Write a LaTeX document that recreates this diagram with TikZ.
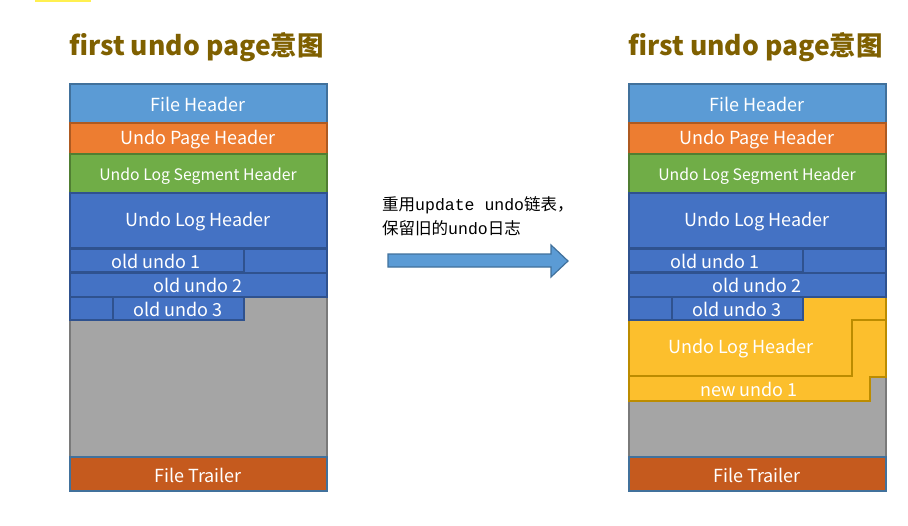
\documentclass[tikz,border=0pt]{standalone}
\usepackage{fontspec}
\setmainfont{Noto Sans CJK SC}
\newfontfamily\cjk{Noto Sans CJK SC}
\newfontfamily\monof{Liberation Mono}
\definecolor{fhblue}{HTML}{5B9BD5}
\definecolor{fhborder}{HTML}{41719C}
\definecolor{orfill}{HTML}{ED7D31}
\definecolor{orborder}{HTML}{AE5A21}
\definecolor{grfill}{HTML}{70AD47}
\definecolor{grborder}{HTML}{507E32}
\definecolor{blfill}{HTML}{4472C4}
\definecolor{blborder}{HTML}{2F528F}
\definecolor{gyfill}{HTML}{A5A5A5}
\definecolor{gyborder}{HTML}{7A7A7A}
\definecolor{trfill}{HTML}{C55A1E}
\definecolor{yefill}{HTML}{FCBF2D}
\definecolor{yeborder}{HTML}{BC8C00}
\definecolor{titlec}{HTML}{7F6000}
\definecolor{topbar}{HTML}{FFF050}
\begin{document}
\begin{tikzpicture}[x=1pt,y=-1pt,
  blk/.style={line width=1.5pt,line join=miter},
  lbl/.style={text=white,font=\fontsize{18}{18}\selectfont,inner sep=0pt},
  slbl/.style={text=white,font=\fontsize{15.8}{16}\selectfont,inner sep=0pt},
  ttl/.style={text=titlec,font=\fontsize{26.5}{27}\selectfont\bfseries,inner sep=0pt,anchor=west},
  note/.style={text=black,font=\fontsize{16.5}{20}\selectfont,inner sep=0pt,anchor=west,align=left}]
\useasboundingbox (0,0) rectangle (908,525);
\fill[topbar] (35,0) rectangle (91,1.5);
% ---------- left page ----------
\node[ttl] (t1) at (69,47) {first undo page意图};
\draw[blk,fill=fhblue,draw=fhborder] (70,84) rectangle (327,123);
\draw[blk,fill=orfill,draw=orborder] (70,123) rectangle (327,154);
\draw[blk,fill=grfill,draw=grborder] (70,154) rectangle (327,193);
\draw[blk,fill=blfill,draw=blborder] (70,193) rectangle (327,248);
\draw[blk,fill=gyfill,draw=gyborder] (70,297) rectangle (327,457);
\draw[blk,fill=blfill,draw=blborder] (244,249) rectangle (327,273);
\draw[blk,fill=blfill,draw=blborder] (70,273) rectangle (327,297);
\draw[blk,fill=blfill,draw=blborder] (70,297) rectangle (113,320);
\draw[blk,fill=blfill,draw=blborder] (70,249) rectangle (244,272);
\draw[blk,fill=blfill,draw=blborder] (113,297) rectangle (244,320);
\draw[blk,fill=trfill,draw=fhborder] (70,457) rectangle (327,491);
\node[lbl] (a1) at (198,104) {File Header};
\node[lbl] (a2) at (198,140) {Undo Page Header};
\node[slbl] (a3) at (198,176) {Undo Log Segment Header};
\node[lbl] (a4) at (198,222) {Undo Log Header};
\node[lbl] (a5) at (156,261) {old undo 1};
\node[lbl] (a6) at (198,285) {old undo 2};
\node[lbl] (a7) at (178,309) {old undo 3};
\node[lbl] (a8) at (198,475) {File Trailer};
% ---------- arrow ----------
\draw[line width=1.2pt,draw=fhborder,fill=fhblue] (388,254) -- (551,254) -- (551,245) -- (568,261) -- (551,277) -- (551,267) -- (388,267) -- cycle;
\node[note] (n1) at (382,205) {{\cjk 重用}{\monof update undo}{\cjk 链表，}};
\node[note] (n2) at (382,228) {{\cjk 保留旧的}{\monof undo}{\cjk 日志}};
% ---------- right page ----------
\begin{scope}[xshift=559pt]
\node[ttl] (t2) at (69,47) {first undo page意图};
\draw[blk,fill=fhblue,draw=fhborder] (70,84) rectangle (327,123);
\draw[blk,fill=orfill,draw=orborder] (70,123) rectangle (327,154);
\draw[blk,fill=grfill,draw=grborder] (70,154) rectangle (327,193);
\draw[blk,fill=blfill,draw=blborder] (70,193) rectangle (327,248);
\draw[blk,fill=gyfill,draw=gyborder] (70,376) rectangle (327,457);
\draw[blk,fill=yefill,draw=yeborder] (70,320) -- (244,320) -- (244,297) -- (327,297) -- (327,320) -- (293,320) -- (293,376) -- (70,376) -- cycle;
\draw[blk,fill=yefill,draw=yeborder] (293,320) -- (327,320) -- (327,377) -- (311,377) -- (311,401) -- (70,401) -- (70,376) -- (293,376) -- cycle;
\draw[blk,fill=blfill,draw=blborder] (244,249) rectangle (327,273);
\draw[blk,fill=blfill,draw=blborder] (70,273) rectangle (327,297);
\draw[blk,fill=blfill,draw=blborder] (70,297) rectangle (113,320);
\draw[blk,fill=blfill,draw=blborder] (70,249) rectangle (244,272);
\draw[blk,fill=blfill,draw=blborder] (113,297) rectangle (244,320);
\draw[blk,fill=trfill,draw=fhborder] (70,457) rectangle (327,491);
\node[lbl] (b1) at (198,104) {File Header};
\node[lbl] (b2) at (198,140) {Undo Page Header};
\node[slbl] (b3) at (198,176) {Undo Log Segment Header};
\node[lbl] (b4) at (198,222) {Undo Log Header};
\node[lbl] (b5) at (156,261) {old undo 1};
\node[lbl] (b6) at (198,285) {old undo 2};
\node[lbl] (b7) at (178,309) {old undo 3};
\node[lbl] (b9) at (182,349) {Undo Log Header};
\node[lbl] (b10) at (190,389) {new undo 1};
\node[lbl] (b8) at (198,475) {File Trailer};
\end{scope}
\end{tikzpicture}
\end{document}
